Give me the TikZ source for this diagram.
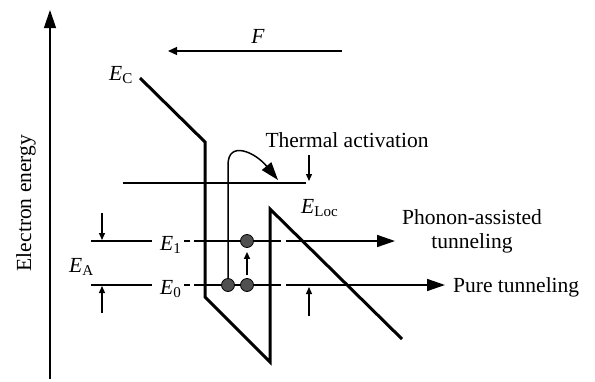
\documentclass[tikz,border=0pt]{standalone}
\usepackage{fontspec}
\setmainfont{Liberation Serif}
\usetikzlibrary{arrows.meta}
\definecolor{dotgray}{HTML}{505050}
\begin{document}
\begin{tikzpicture}[x=1pt,y=-1pt,
  lbl/.style={font=\fontsize{21.5}{24}\selectfont, inner sep=0pt},
  band/.style={line width=3pt, line join=miter},
  level/.style={line width=1.5pt},
  thin/.style={line width=1.3pt},
  bigtip/.style={-{Triangle[length=18pt,width=12pt]}},
  midtip/.style={-{Triangle[length=9pt,width=8pt]}},
  smalltip/.style={-{Triangle[length=7pt,width=6pt]}},
  dot/.style={circle, draw=black, line width=0.8pt, fill=dotgray, minimum size=13pt, inner sep=0pt}]
\useasboundingbox (0,0) rectangle (595,381);

% energy axis
\coordinate (ax0) at (50,379);
\coordinate (ax1) at (50,10);
\draw[thin,bigtip] (ax0) -- (ax1);
\node[lbl, rotate=90, anchor=base] (ylab) at (31,203) {Electron energy};

% field arrow
\coordinate (F0) at (342,51);
\coordinate (F1) at (168,51);
\draw[thin,midtip] (F0) -- (F1);
\node[lbl, anchor=base] (Flab) at (258,43) {\textit{F}};

% conduction band edge
\coordinate (c1) at (140,78);
\coordinate (c2) at (205,142);
\coordinate (c3) at (205,297);
\coordinate (c4) at (270,362);
\coordinate (c5) at (270,209);
\coordinate (c6) at (402,339);
\draw[band] (c1) -- (c2) -- (c3) -- (c4) -- (c5) -- (c6);
\node[lbl, anchor=base east] (EC) at (133,80) {\textit{E}\textsubscript{C}};
\node[lbl, anchor=base west] (ELoc) at (301,213) {\textit{E}\textsubscript{Loc}};

% thermal activation level
\coordinate (t0) at (123,183);
\coordinate (t1) at (306,183);
\draw[level] (t0) -- (t1);
\node[lbl, anchor=base] (thermal) at (347,147) {Thermal activation};
\coordinate (ta0) at (309,155);
\coordinate (ta1) at (309,181);
\draw[thin,smalltip] (ta0) -- (ta1);

% levels E1 and E0
\coordinate (a1) at (91,241);  \coordinate (b1) at (152,241);
\coordinate (d1a) at (184,241); \coordinate (d1b) at (190,241);
\coordinate (e1a) at (194,241); \coordinate (e1b) at (281,241);
\coordinate (f1a) at (286,241); \coordinate (f1b) at (395,241);
\draw[level] (a1) -- (b1);
\draw[level] (d1a) -- (d1b);
\draw[level] (e1a) -- (e1b);
\draw[level,bigtip] (f1a) -- (f1b);
\node[lbl, anchor=base west] (E1) at (160,250) {\textit{E}\textsubscript{1}};

\coordinate (a0) at (91,285);  \coordinate (b0) at (152,285);
\coordinate (d0a) at (184,285); \coordinate (d0b) at (190,285);
\coordinate (e0a) at (194,285); \coordinate (e0b) at (281,285);
\coordinate (f0a) at (286,285); \coordinate (f0b) at (445,285);
\draw[level] (a0) -- (b0);
\draw[level] (d0a) -- (d0b);
\draw[level] (e0a) -- (e0b);
\draw[level,bigtip] (f0a) -- (f0b);
\node[lbl, anchor=base west] (E0) at (160,294) {\textit{E}\textsubscript{0}};

% activation energy
\node[lbl, anchor=base west] (EA) at (69,272) {\textit{E}\textsubscript{A}};
\coordinate (ea0) at (102,213); \coordinate (ea1) at (102,240);
\draw[thin,smalltip] (ea0) -- (ea1);
\coordinate (eb0) at (102,313); \coordinate (eb1) at (102,286);
\draw[thin,smalltip] (eb0) -- (eb1);

% electrons
\node[dot] (n1) at (247,241) {};
\node[dot] (n0a) at (228,285) {};
\node[dot] (n0b) at (247,285) {};
\draw[thin,smalltip] ([yshift=3.5pt]n0b.north) -- ([yshift=-4pt]n1.south);

% thermal activation path
\coordinate (tp) at (278,180);
\draw[level,bigtip] (n0a.north) -- (228,165) .. controls (228,140) and (255,152) .. (tp);

% right tunneling marker
\coordinate (r0) at (309,316); \coordinate (r1) at (309,287);
\draw[thin,smalltip] (r0) -- (r1);

% tunneling labels
\node[lbl, anchor=base] (pat1) at (472,224) {Phonon-assisted};
\node[lbl, anchor=base] (pat2) at (472,248) {tunneling};
\node[lbl, anchor=base west] (pt) at (453,292) {Pure tunneling};
\end{tikzpicture}
\end{document}
